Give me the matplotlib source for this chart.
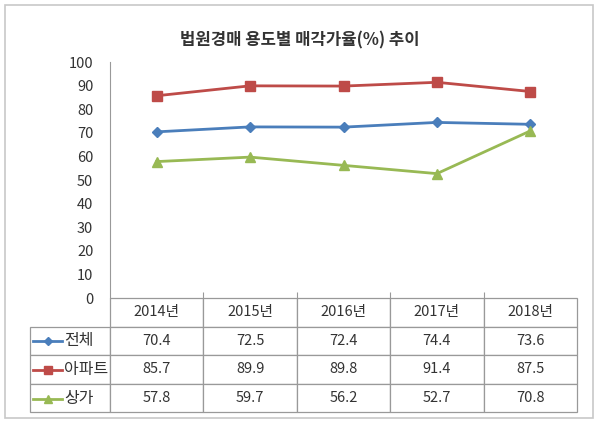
import matplotlib
matplotlib.use("Agg")
import matplotlib.pyplot as plt
from matplotlib.lines import Line2D
from matplotlib.patches import Rectangle

plt.rcParams['font.family'] = ['Noto Sans CJK KR', 'DejaVu Sans']

# data
years = ["2014년", "2015년", "2016년", "2017년", "2018년"]
series_names = ["전체", "아파트", "상가"]
total = [70.4, 72.5, 72.4, 74.4, 73.6]
apartment = [85.7, 89.9, 89.8, 91.4, 87.5]
store = [57.8, 59.7, 56.2, 52.7, 70.8]
yticks = [0, 10, 20, 30, 40, 50, 60, 70, 80, 90, 100]

colors = ["#4a7ebb", "#be4b48", "#98b954"]
markers = ["D", "s", "^"]
msizes = [5, 7, 7]
series = [total, apartment, store]

fig = plt.figure(figsize=(6, 4.26), dpi=100)
fig.patch.set_facecolor("white")

# outer frame
fig.add_artist(Rectangle((5 / 600, 1 - 418 / 426), 588 / 600, 413 / 426,
                         transform=fig.transFigure, fill=False,
                         edgecolor="#c8c8c8", linewidth=1.2))

ax = fig.add_axes([110 / 600, 1 - 298 / 426, 467 / 600, 236 / 426])
x = list(range(len(years)))
for vals, c, m, ms in zip(series, colors, markers, msizes):
    ax.plot(x, vals, color=c, marker=m, markersize=ms, linewidth=2,
            markeredgecolor=c)

ax.set_xlim(-0.5, len(years) - 0.5)
ax.set_ylim(0, 100)
ax.set_yticks(yticks)
ax.set_yticklabels([str(v) for v in yticks], fontsize=10.5, color="#333333")
ax.tick_params(axis="y", length=0, pad=12)
ax.set_xticks([i + 0.5 for i in x[:-1]])
ax.set_xticklabels([])
ax.tick_params(axis="x", direction="in", length=4, color="#999999")
for s in ["top", "right", "bottom"]:
    ax.spines[s].set_visible(False)
ax.spines["left"].set_color("#999999")

fig.text(0.5, 1 - 40 / 426, "법원경매 용도별 매각가율(%) 추이", ha="center",
         va="center", fontsize=12, fontweight="bold", color="#333333")

# data table
cell_text = [["", *years]]
for vals in series:
    cell_text.append(["", *[f"{v:.1f}" for v in vals]])

tab_h = 114 / 236
tab = ax.table(cellText=cell_text,
               colWidths=[80] + [93.4] * len(years),
               bbox=[-80 / 467, -tab_h, 547 / 467, tab_h],
               cellLoc="center")
tab.auto_set_font_size(False)
for (r, c), cell in tab.get_celld().items():
    cell.set_edgecolor("#999999")
    cell.set_linewidth(0.9)
    cell.get_text().set_fontsize(10.5)
    cell.get_text().set_color("#333333")
    if r == 0 and c == 0:
        cell.visible_edges = ""

# legend keys and names in row labels
row_y = [326 + 14.5, 355 + 14.5, 384 + 14.5]
for yy, name, c, m, ms in zip(row_y, series_names, colors, markers, msizes):
    fy = 1 - yy / 426
    fig.add_artist(Line2D([33 / 600, 62 / 600], [fy, fy], color=c,
                          linewidth=2, transform=fig.transFigure))
    fig.add_artist(Line2D([47.5 / 600], [fy], color=c, marker=m,
                          markersize=ms - 1, markeredgecolor=c,
                          transform=fig.transFigure))
    fig.text(64 / 600, fy, name, ha="left", va="center", fontsize=11.5,
             color="#333333")

fig.savefig("out.png", dpi=100, facecolor="white")
